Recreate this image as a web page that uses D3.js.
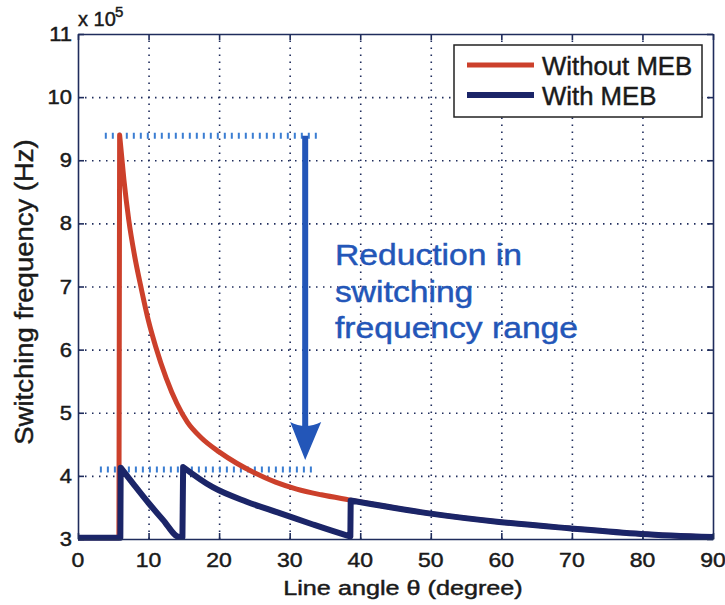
<!DOCTYPE html>
<html>
<head>
<meta charset="utf-8">
<script src="https://cdn.jsdelivr.net/npm/d3@7"></script>
<style>
  body { margin: 0; background: #fff; }
  text { font-family: "Liberation Sans", Arial, Helvetica, sans-serif; }
</style>
</head>
<body>
<div id="chart"></div>
<script>
// Data (frequency in units of 1e5 Hz, angle in degrees)

const without_meb = [
	{ang: 0, f: 3.02}, {ang: 5.8, f: 3.02}, {ang: 5.9, f: 9.4},
	{ang: 6.5, f: 8.7}, {ang: 7.2, f: 8.05}, {ang: 8.0, f: 7.5},
	{ang: 9.0, f: 6.95}, {ang: 10.0, f: 6.45}, {ang: 11.0, f: 6.05},
	{ang: 12.5, f: 5.55}, {ang: 14.0, f: 5.15}, {ang: 15.5, f: 4.85},
	{ang: 17.5, f: 4.6}, {ang: 20, f: 4.38}, {ang: 22.5, f: 4.2},
	{ang: 25, f: 4.05}, {ang: 28, f: 3.9}, {ang: 31, f: 3.79},
	{ang: 34.5, f: 3.7}, {ang: 38.4, f: 3.62},
	{ang: 49.5, f: 3.41}, {ang: 59.7, f: 3.27}, {ang: 69.6, f: 3.17},
	{ang: 79.8, f: 3.08}, {ang: 90, f: 3.03}
];

const with_meb = [
	{ang: 0, f: 3.02}, {ang: 6.0, f: 3.02}, {ang: 6.05, f: 4.13},
	{ang: 8, f: 3.85}, {ang: 10, f: 3.57}, {ang: 12, f: 3.31}, {ang: 14.4, f: 3.03},
	{ang: 14.8, f: 3.03}, {ang: 14.9, f: 4.14}, {ang: 19.1, f: 3.82},
	{ang: 23.9, f: 3.59}, {ang: 28.6, f: 3.41}, {ang: 33.3, f: 3.23},
	{ang: 38.3, f: 3.05}, {ang: 38.6, f: 3.04}, {ang: 38.65, f: 3.61},
	{ang: 49.5, f: 3.41}, {ang: 59.7, f: 3.27}, {ang: 69.6, f: 3.17},
	{ang: 79.8, f: 3.08}, {ang: 90, f: 3.03}
];

// dotted reference levels and the arrow between them
const ref_lines = [
	{x0: 3.8, x1: 34, f: 9.39},
	{x0: 3.1, x1: 33.5, f: 4.1}
];
const arrow = {ang: 32.2, from: 9.39, to: 4.25};

const x_ticks = [0, 10, 20, 30, 40, 50, 60, 70, 80, 90];
const y_ticks = [3, 4, 5, 6, 7, 8, 9, 10, 11];
const legend_items = ["Without MEB", "With MEB"];
const note_lines = ["Reduction in", "switching", "frequency range"];

const W = 725, H = 605;
const margin = {top: 34, right: 12, bottom: 66, left: 78};
const width = W - margin.left - margin.right;
const height = H - margin.top - margin.bottom;

const RED = "#cc402b", NAVY = "#1b2568", FRAME = "#1f2c5c", NOTE = "#2356b8", REF = "#3a7dd2";

const svg = d3.select("#chart").append("svg")
	.attr("width", W).attr("height", H);
const g = svg.append("g")
	.attr("transform", `translate(${margin.left},${margin.top})`);

const x = d3.scaleLinear().domain([0, 90]).range([0, width]);
const y = d3.scaleLinear().domain([3, 11]).range([height, 0]);

// text drawn slightly wider than tall, like the original picture
function label(parent, txt, px, py, size, sx, anchor, color) {
	return parent.append("text")
		.attr("transform", `translate(${px},${py}) scale(${sx},1)`)
		.attr("text-anchor", anchor || "start")
		.attr("font-size", size)
		.attr("fill", color || "#1a1a1a")
		.attr("stroke", color || "#1a1a1a")
		.attr("stroke-width", 0.45)
		.text(txt);
}

// smooth each decaying run, keep the jumps straight
const smooth = d3.line().x(d => x(d.ang)).y(d => y(d.f)).curve(d3.curveMonotoneX);
function curvePath(data) {
	const runs = [[data[0]]];
	for (let i = 1; i < data.length; i++) {
		if (data[i].ang - data[i - 1].ang < 0.3) runs.push([data[i]]);
		else runs[runs.length - 1].push(data[i]);
	}
	return runs.map((r, i) => {
		const p = r.length > 1 ? smooth(r) : `M${x(r[0].ang)},${y(r[0].f)}`;
		return i == 0 ? p : "L" + p.slice(1);
	}).join("");
}

// grid
g.append("g")
	.attr("transform", `translate(0,${height})`)
	.call(d3.axisBottom(x).tickValues(x_ticks.slice(1, -1)).tickSize(-height).tickFormat(""))
	.call(s => s.select(".domain").remove())
	.selectAll("line").attr("stroke", "#2a2a40").attr("stroke-width", 1.4).attr("stroke-dasharray", "1.5,5.5");
g.append("g")
	.call(d3.axisLeft(y).tickValues(y_ticks.slice(1, -1)).tickSize(-width).tickFormat(""))
	.call(s => s.select(".domain").remove())
	.selectAll("line").attr("stroke", "#2a2a40").attr("stroke-width", 1.4).attr("stroke-dasharray", "1.5,5.5");

// dotted reference lines (short vertical dashes)
g.selectAll(".ref").data(ref_lines).join("line")
	.attr("class", "ref")
	.attr("x1", d => x(d.x0)).attr("x2", d => x(d.x1))
	.attr("y1", d => y(d.f)).attr("y2", d => y(d.f))
	.attr("stroke", REF).attr("stroke-width", 6).attr("stroke-dasharray", "2,5");

// curves
g.append("path")
	.attr("d", curvePath(without_meb)).attr("fill", "none").attr("stroke", RED).attr("stroke-width", 5)
	.attr("stroke-linejoin", "round");
g.append("path")
	.attr("d", curvePath(with_meb)).attr("fill", "none").attr("stroke", NAVY).attr("stroke-width", 6)
	.attr("stroke-linejoin", "round");

// arrow
const ax = x(arrow.ang), aTop = y(arrow.from), aTip = y(arrow.to);
g.append("line")
	.attr("x1", ax).attr("x2", ax).attr("y1", aTop).attr("y2", aTip - 30)
	.attr("stroke", NOTE).attr("stroke-width", 6);
g.append("path")
	.attr("d", `M${ax - 15},${aTip - 38} Q${ax},${aTip - 30} ${ax + 16},${aTip - 38} L${ax},${aTip} Z`)
	.attr("fill", NOTE);

// annotation text
note_lines.forEach((t, i) => {
	label(g, t, 257, 231 + i * 36.5, 29, 1.16, "start", NOTE);
});

// frame and inward ticks on all sides
g.append("g").attr("transform", `translate(0,${height})`)
	.call(d3.axisBottom(x).tickValues(x_ticks).tickSize(-6).tickSizeOuter(0).tickFormat(""));
g.append("g")
	.call(d3.axisTop(x).tickValues(x_ticks).tickSize(-6).tickSizeOuter(0).tickFormat(""));
g.append("g")
	.call(d3.axisLeft(y).tickValues(y_ticks).tickSize(-6).tickSizeOuter(0).tickFormat(""));
g.append("g").attr("transform", `translate(${width},0)`)
	.call(d3.axisRight(y).tickValues(y_ticks).tickSize(-6).tickSizeOuter(0).tickFormat(""));
g.selectAll(".domain, .tick line").attr("stroke", FRAME).attr("stroke-width", 1.6);

// tick labels
x_ticks.forEach(v => label(g, v, x(v), height + 28, 20, 1.15, "middle"));
y_ticks.forEach(v => label(g, v, -6, y(v) + 7, 20, 1.1, "end"));

// exponent
label(g, "x 10", 0, -8, 20, 1.0, "start");
label(g, "5", 37, -17, 15, 1.0, "start");

// axis titles
label(svg, "Line angle \u03b8 (degree)", 403, 595, 21, 1.2, "middle");
svg.append("text")
	.attr("transform", "translate(33,292) rotate(-90) scale(1.1,1)")
	.attr("text-anchor", "middle").attr("font-size", 25)
	.attr("fill", "#1a1a1a").attr("stroke", "#1a1a1a").attr("stroke-width", 0.45)
	.text("Switching frequency (Hz)");

// legend
const lg = svg.append("g").attr("transform", "translate(454,45)");
lg.append("rect").attr("width", 248).attr("height", 72)
	.attr("fill", "#fff").attr("stroke", "#222").attr("stroke-width", 1.5);
const lcol = [RED, NAVY], lw = [5, 6];
legend_items.forEach((t, i) => {
	lg.append("line").attr("x1", 13).attr("x2", 80).attr("y1", 20 + i * 30).attr("y2", 20 + i * 30)
		.attr("stroke", lcol[i]).attr("stroke-width", lw[i]);
	label(lg, t, 88, 30 + i * 30, 25, 1.03, "start");
});
</script>
</body>
</html>
